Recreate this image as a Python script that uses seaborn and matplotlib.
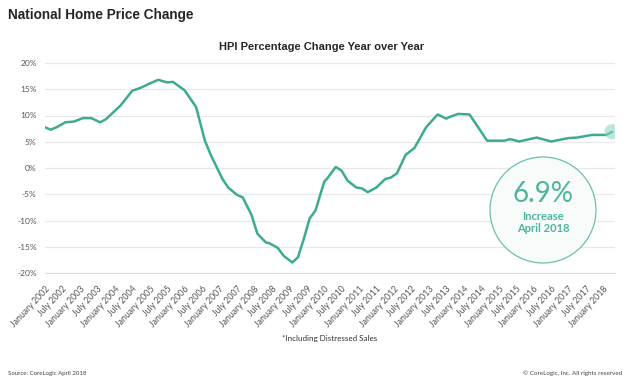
import pandas as pd
import matplotlib
matplotlib.use("Agg")
import matplotlib.pyplot as plt
from matplotlib.patches import Ellipse
import seaborn as sns

# ------------------------------
# Data
# ------------------------------
dates = ["2002-01", "2002-03", "2002-05", "2002-08", "2002-11", "2003-02", "2003-05",
         "2003-08", "2003-10", "2004-03", "2004-07", "2004-10", "2005-01", "2005-04",
         "2005-07", "2005-09", "2005-11", "2006-01", "2006-05", "2006-08", "2006-10",
         "2007-02", "2007-04", "2007-07", "2007-09", "2007-12", "2008-02", "2008-05",
         "2008-06", "2008-09", "2008-11", "2009-02", "2009-04", "2009-06", "2009-08",
         "2009-10", "2010-01", "2010-02", "2010-05", "2010-07", "2010-09", "2010-12",
         "2011-02", "2011-04", "2011-07", "2011-10", "2011-12", "2012-02", "2012-05",
         "2012-08", "2012-12", "2013-04", "2013-07", "2013-08", "2013-11", "2014-03",
         "2014-09", "2015-03", "2015-05", "2015-08", "2016-02", "2016-07", "2017-01",
         "2017-04", "2017-09", "2018-02", "2018-04"]
hpi_change = [7.75, 7.3, 7.75, 8.7, 8.85, 9.5, 9.5,
              8.7, 9.3, 11.9, 14.7, 15.3, 16.1, 16.8,
              16.3, 16.4, 15.6, 14.8, 11.6, 5.2, 2.5,
              -2.1, -3.7, -5.1, -5.6, -8.9, -12.5, -14.2,
              -14.3, -15.2, -16.7, -18.0, -17.0, -13.5, -9.6,
              -8.1, -2.6, -2.0, 0.2, -0.5, -2.4, -3.7,
              -3.9, -4.6, -3.7, -2.1, -1.8, -1.0, 2.5,
              3.8, 7.75, 10.2, 9.4, 9.7, 10.3, 10.2,
              5.2, 5.2, 5.5, 5.05, 5.8, 5.05, 5.7,
              5.8, 6.3, 6.3, 6.9]

years = list(range(2002, 2019))
y_ticks = [20, 15, 10, 5, 0, -5, -10, -15, -20]

df = pd.DataFrame({"date": pd.to_datetime(dates), "hpi": hpi_change})

# tick positions: January and July of each year up to January 2018
tick_dates = []
tick_labels = []
for yr in years:
    tick_dates.append(pd.Timestamp(f"{yr}-01-01"))
    tick_labels.append(f"January {yr}")
    if yr < 2018:
        tick_dates.append(pd.Timestamp(f"{yr}-07-01"))
        tick_labels.append(f"July {yr}")

# ------------------------------
# Plot
# ------------------------------
sns.set_style("white")
plt.rcParams["font.family"] = ["Lato", "DejaVu Sans"]

line_color = "#3dab90"
grey = "#555555"
teal_text = "#4db59c"

fig = plt.figure(figsize=(6.4, 3.85), dpi=100)
ax = fig.add_axes([45 / 640, 1 - 273 / 385, 570 / 640, 210 / 385])

sns.lineplot(data=df, x="date", y="hpi", ax=ax, color=line_color, linewidth=1.8)

# end point marker
ax.scatter(df["date"].iloc[-1], df["hpi"].iloc[-1], s=120, color="#8fd6c3",
           alpha=0.6, zorder=3, edgecolor="none")

ax.set_xlim(pd.Timestamp("2002-01-01"), pd.Timestamp("2018-05-01"))
ax.set_ylim(-20, 20)
ax.set_yticks(y_ticks)
ax.set_yticklabels([f"{v}%" for v in y_ticks], fontsize=6, color=grey)
ax.set_xticks(tick_dates)
ax.set_xticklabels(tick_labels, rotation=47, ha="right", rotation_mode="anchor",
                   fontsize=6.3, color=grey)
ax.tick_params(axis="y", length=0, pad=6)
ax.tick_params(axis="x", length=3, width=0.6, color="#dddddd", pad=5)
ax.grid(axis="y", color="#e8e8e8", linewidth=0.9)
ax.set_xlabel("")
ax.set_ylabel("")
for side in ["top", "right", "left"]:
    ax.spines[side].set_visible(False)
ax.spines["bottom"].set_color("#dddddd")
ax.spines["bottom"].set_linewidth(0.8)

# titles and notes
fig.text(8 / 640, 1 - 15 / 385, "National Home Price Change", fontsize=9.8,
         fontweight="bold", family=["Liberation Sans", "DejaVu Sans"], va="center")
fig.text(322 / 640, 1 - 47 / 385, "HPI Percentage Change Year over Year",
         fontsize=8, fontweight="bold", family=["Liberation Sans", "DejaVu Sans"],
         ha="center", va="center")
fig.text(330 / 640, 1 - 338 / 385, "*Including Distressed Sales", fontsize=5.8,
         color="#333333", ha="center", va="center")
fig.text(8 / 640, 1 - 373 / 385, "Source: CoreLogic April 2018", fontsize=4.4,
         color="#444444", va="center")
fig.text(622 / 640, 1 - 373 / 385, "\u00a9 CoreLogic, Inc. All rights reserved",
         fontsize=4.5, color="#444444", ha="right", va="center")

# callout circle
cx, cy, r = 543 / 640, 1 - 210 / 385, 53
fig.patches.append(Ellipse((cx, cy), 2 * r / 640, 2 * r / 385, transform=fig.transFigure,
                           facecolor="#f7fcfa", edgecolor="#6cbfab", linewidth=0.9,
                           zorder=5))
fig.text(cx, 1 - 194 / 385, "6.9%", fontsize=20, color=teal_text, fontweight="normal",
         ha="center", va="center", zorder=6)
fig.text(cx, 1 - 217 / 385, "Increase", fontsize=8, color=teal_text,
         fontweight="bold", ha="center", va="center", zorder=6)
fig.text(cx, 1 - 229 / 385, "April 2018", fontsize=8, color=teal_text,
         fontweight="bold", ha="center", va="center", zorder=6)

fig.savefig("out.png", dpi=100)
plt.close(fig)
